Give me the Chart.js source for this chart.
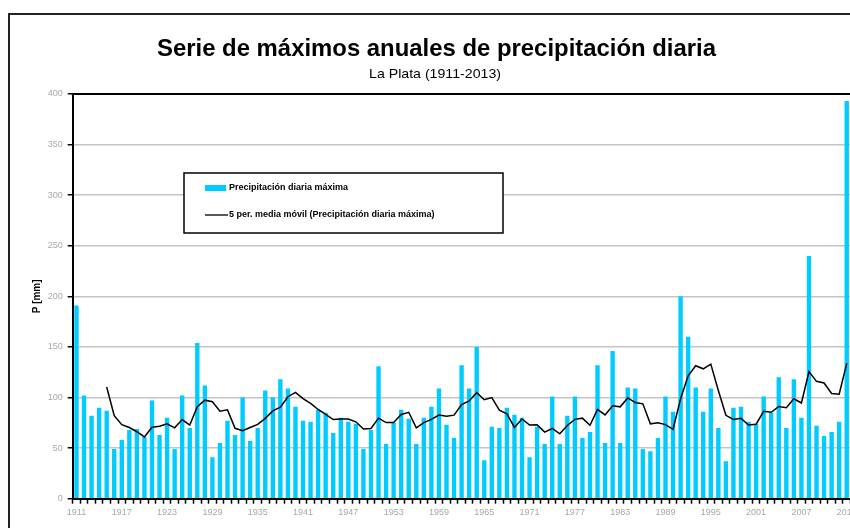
<!DOCTYPE html>
<html><head><meta charset="utf-8">
<script src="https://cdn.jsdelivr.net/npm/chart.js@4"></script>
<style>
html,body{margin:0;padding:0;background:#fff;overflow:hidden;width:850px;height:528px}
#wrap{position:absolute;left:0;top:0;width:870px;height:528px}
</style>
</head><body><div id="wrap"><canvas id="c" width="870" height="528"></canvas></div>
<script>
const titleText = "Serie de máximos anuales de precipitación diaria";
const subtitleText = "La Plata (1911-2013)";
const yAxisTitle = "P [mm]";
const barLabel = "Precipitación diaria máxima";
const lineLabel = "5 per. media móvil (Precipitación diaria máxima)";

const years = [];
for (let y = 1911; y <= 2013; y++) years.push(String(y));

const precipMax = [
 191,102,82,90,87,49,58,68,69,61,
 97,63,80,49,102,70,154,112,41,55,
 77,63,100,57,70,107,100,118,109,91,
 77,76,88,85,65,80,76,74,49,68,
 131,54,75,88,79,54,80,91,109,73,
 60,132,109,150,38,71,70,90,83,80,
 41,71,54,101,54,82,101,60,66,132,
 55,146,55,110,109,49,47,60,101,86,
 200,160,110,86,109,70,37,90,91,76,
 74,101,85,120,70,118,80,240,72,62,
 66,76,393
];

const movingAvg5 = [
 null,null,null,null,110.4,82.0,73.2,70.4,66.2,61.0,
 70.6,71.6,74.0,70.0,78.2,72.8,91.0,97.4,95.8,86.4,
 87.8,69.6,67.2,70.4,73.4,79.4,86.8,90.4,100.8,105.0,
 99.0,94.2,88.2,83.4,78.2,78.8,78.8,76.0,68.8,69.4,
 79.6,75.2,75.4,83.2,85.4,70.0,75.2,78.4,82.6,81.4,
 82.6,93.0,96.6,104.8,97.8,100.0,87.6,83.8,70.4,78.8,
 72.8,73.0,65.8,69.4,64.2,72.4,78.4,79.6,72.6,88.2,
 82.8,91.8,90.8,99.6,95.0,93.8,74.0,75.0,73.2,68.6,
 98.8,121.4,131.4,128.4,133.0,107.0,82.4,78.4,79.4,72.8,
 73.6,86.4,85.4,91.2,90.0,98.8,94.6,125.6,116.0,114.4,
 104.0,103.2,133.8
];

const xTickYears = ["1911","1917","1923","1929","1935","1941","1947","1953","1959","1965","1971","1977","1983","1989","1995","2001","2007","2013"];
const yTickMax = 400, yTickStep = 50;

const FONT = "'Liberation Sans', Arial, sans-serif";

const deco = {
  id: 'deco',
  beforeDraw(chart) {
    const ctx = chart.ctx;
    ctx.save();
    ctx.strokeStyle = '#222';
    ctx.lineWidth = 2;
    ctx.strokeRect(9, 14, 900, 600);
    ctx.restore();
  },
  afterDraw(chart) {
    const ctx = chart.ctx, a = chart.chartArea;
    ctx.save();
    // top border of plot area
    ctx.strokeStyle = '#000';
    ctx.lineWidth = 2;
    ctx.beginPath(); ctx.moveTo(a.left - 1, a.top); ctx.lineTo(a.right + 20, a.top); ctx.stroke();

    // title
    ctx.fillStyle = '#000';
    ctx.textAlign = 'center';
    ctx.textBaseline = 'alphabetic';
    ctx.font = "bold 24px " + FONT;
    const w = ctx.measureText(titleText).width;
    const sx = 559 / w;
    ctx.save();
    ctx.translate(436.5, 56);
    ctx.scale(sx, 1);
    ctx.fillText(titleText, 0, 0);
    ctx.restore();

    ctx.font = "13px " + FONT;
    const w2 = ctx.measureText(subtitleText).width;
    ctx.save();
    ctx.translate(435, 78);
    ctx.scale(132 / w2, 1);
    ctx.fillText(subtitleText, 0, 0);
    ctx.restore();

    // y axis title
    ctx.save();
    ctx.translate(37, (a.top + a.bottom) / 2);
    ctx.rotate(-Math.PI / 2);
    ctx.font = "bold 10px " + FONT;
    ctx.textBaseline = 'middle';
    ctx.fillText(yAxisTitle, 0, 0);
    ctx.restore();

    // legend box
    const lx = 184, ly = 173, lw = 319, lh = 60;
    ctx.fillStyle = '#fff';
    ctx.fillRect(lx, ly, lw, lh);
    ctx.strokeStyle = '#000';
    ctx.lineWidth = 1.5;
    ctx.strokeRect(lx, ly, lw, lh);
    const ds = chart.data.datasets;
    const barDs = ds.find(d => d.type === 'bar');
    const lineDs = ds.find(d => d.type === 'line');
    ctx.fillStyle = barDs.backgroundColor;
    ctx.fillRect(205, 185, 21, 6);
    ctx.strokeStyle = lineDs.borderColor;
    ctx.lineWidth = 1.3;
    ctx.beginPath(); ctx.moveTo(205, 215); ctx.lineTo(228, 215); ctx.stroke();
    ctx.fillStyle = '#000';
    ctx.textAlign = 'left';
    ctx.textBaseline = 'middle';
    ctx.font = "bold 9px " + FONT;
    ctx.fillText(barDs.label, 229, 188);
    ctx.fillText(lineDs.label, 229, 215);
    ctx.restore();
  }
};

new Chart(document.getElementById('c'), {
  data: {
    labels: years,
    datasets: [
      {
        type: 'line',
        label: lineLabel,
        data: movingAvg5,
        borderColor: '#000',
        borderWidth: 1.5,
        pointRadius: 0,
        tension: 0,
        fill: false,
        order: 0
      },
      {
        type: 'bar',
        label: barLabel,
        data: precipMax,
        backgroundColor: 'rgb(0,204,255)',
        borderWidth: 0,
        barPercentage: 0.58,
        categoryPercentage: 1.0,
        order: 1
      }
    ]
  },
  options: {
    responsive: false,
    animation: false,
    devicePixelRatio: 1,
    layout: { padding: { left: 0, right: 19.5, top: 94, bottom: 0 } },
    plugins: { legend: { display: false }, title: { display: false }, tooltip: { enabled: false } },
    scales: {
      x: {
        type: 'category',
        offset: true,
        grid: { display: true, drawOnChartArea: false, drawTicks: true, tickLength: 5, tickColor: '#000', tickWidth: 1.5, offset: true },
        border: { display: true, color: '#000', width: 2 },
        ticks: {
          autoSkip: false, maxRotation: 0, minRotation: 0, padding: 3,
          color: '#a8a8a8',
          font: { family: FONT, size: 9 },
          callback: function(v) { const l = this.getLabelForValue(v); return xTickYears.includes(l) ? l : ''; }
        },
        afterFit: s => { s.height = 29.3; }
      },
      y: {
        min: 0, max: yTickMax,
        grid: { color: '#c4c4c4', lineWidth: 1.5, tickColor: '#000', tickLength: 5, tickWidth: 1.5 },
        border: { display: true, color: '#000', width: 2 },
        ticks: { stepSize: yTickStep, padding: 5, color: '#a8a8a8', font: { family: FONT, size: 9 } },
        afterFit: s => { s.width = 72.7; }
      }
    }
  },
  plugins: [deco]
});
</script>
</body></html>
